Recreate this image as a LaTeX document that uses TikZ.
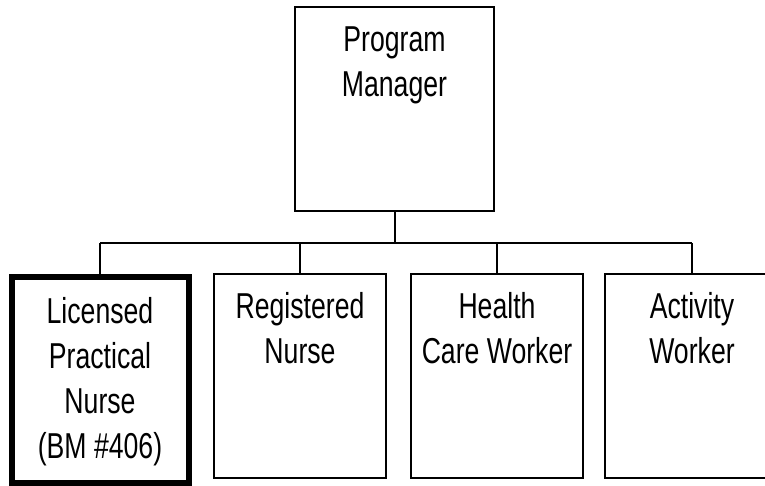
\documentclass[tikz,border=0pt]{standalone}
\usepackage{fontspec}
\setmainfont{Liberation Sans}[FakeStretch=0.74]
\begin{document}
\begin{tikzpicture}[x=1pt,y=-1pt,
  orgbox/.style={draw=black, line width=2pt, inner sep=0pt, outer sep=0pt, anchor=north west, font=\fontsize{36}{45}\selectfont},
  keybox/.style={orgbox, line width=6pt},
  link/.style={draw=black, line width=2pt}]
\useasboundingbox (0,0) rectangle (765,486);
\clip (0,0) rectangle (765,486);
\node[orgbox] (pm) at (295,7) {\parbox[t][204pt][t]{199pt}{\centering\rule{0pt}{45pt}Program\\Manager}};
\node[keybox] (lpn) at (11.5,276.5) {\parbox[t][206.5pt][t]{177pt}{\centering\rule{0pt}{46.5pt}Licensed\\Practical\\Nurse\\(BM \#406)}};
\node[orgbox] (rn) at (214,274) {\parbox[t][204pt][t]{172pt}{\centering\rule{0pt}{44pt}Registered\\Nurse}};
\node[orgbox] (hcw) at (411,274) {\parbox[t][204pt][t]{172pt}{\centering\rule{0pt}{44pt}Health\\Care Worker}};
\node[orgbox] (aw) at (605,274) {\parbox[t][204pt][t]{174pt}{\centering\rule{0pt}{44pt}Activity\\Worker}};
\coordinate (bus) at (0,243);
\draw[link] (pm.south) -- (pm.south |- bus);
\draw[link] (lpn.north |- bus) -- (aw.north |- bus);
\draw[link] (lpn.north |- bus) -- (lpn.north);
\draw[link] (rn.north |- bus) -- (rn.north);
\draw[link] (hcw.north |- bus) -- (hcw.north);
\draw[link] (aw.north |- bus) -- (aw.north);
\end{tikzpicture}
\end{document}
